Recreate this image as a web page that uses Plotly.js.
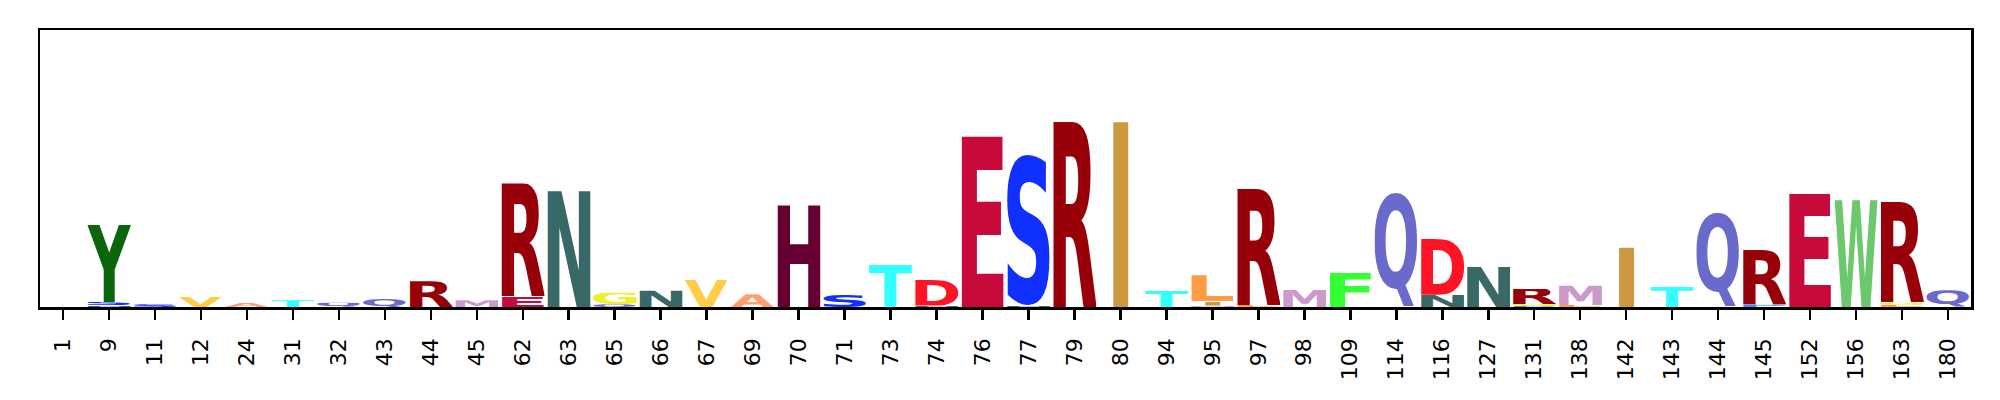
<!DOCTYPE html>
<html><head><meta charset="utf-8">
<script src="https://cdn.plot.ly/plotly-3.0.1.min.js"></script>
<style>html,body{margin:0;padding:0;background:#fff;} #chart{width:2000px;height:400px;}</style>
</head><body><div id="chart"></div>
<script>
// Positions (x tick labels)
const positions = ['1','9','11','12','24','31','32','43','44','45','62','63','65','66','67','69','70','71','73','74','76','77','79','80','94','95','97','98','109','114','116','127','131','138','142','143','144','145','152','156','163','180'];
// Letters in each stack, bottom to top
const stackLetters = [
  [], ['N','S','Y'], ['S'], ['V'], ['A'], ['T'], ['Q'], ['Q'], ['R'], ['M'],
  ['E','R'], ['N'], ['Q','G'], ['N'], ['V'], ['A'], ['H'], ['S'], ['T'], ['N','D'],
  ['E'], ['N','S'], ['R'], ['I'], ['T'], ['M','I','L'], ['L','R'], ['M'], ['F'], ['Q'],
  ['N','D'], ['N'], ['P','G','R'], ['L','M'], ['I'], ['T'], ['Q'], ['P','R'], ['E'], ['W'],
  ['L','G','R'], ['Q']
];
// Letter heights (bits), same order
const stackHeights = [
  [], [0.023,0.055,1.20], [0.042], [0.172], [0.062], [0.104], [0.067], [0.129], [0.40], [0.104],
  [0.164,1.762], [1.81], [0.042,0.181], [0.254], [0.432], [0.198], [1.596], [0.198], [0.66], [0.023,0.41],
  [2.687], [0.023,2.36], [2.905], [2.905], [0.25], [0.023,0.067,0.405], [0.031,1.817], [0.265], [0.535], [1.783],
  [0.192,0.873], [0.64], [0.016,0.031,0.234], [0.031,0.30], [0.925], [0.317], [1.47], [0.036,0.858], [1.767], [1.669],
  [0.036,0.036,1.57], [0.26]
];
const letterColors = {
  A:'#FF9F6F', C:'#009999', D:'#FF1426', E:'#C80A3A', F:'#33FF33', G:'#EEEE33', H:'#660033',
  I:'#CC9940', K:'#663300', L:'#FF9B44', M:'#CC99CC', N:'#386966', P:'#2299FF', Q:'#6A6ACC',
  R:'#970009', S:'#1030FF', T:'#33FFFF', V:'#FFCC44', W:'#6CC86C', Y:'#0B660B'
};

const GLYPH_WIDTH = 0.95;
const cv = document.createElement('canvas');
const ctx = cv.getContext('2d');
ctx.font = 'bold 1000px "DejaVu Sans"';
ctx.textBaseline = 'alphabetic';
ctx.textAlign = 'left';
function metrics(ch){
  const m = ctx.measureText(ch);
  return {l:m.actualBoundingBoxLeft, r:m.actualBoundingBoxRight, a:m.actualBoundingBoxAscent, d:m.actualBoundingBoxDescent};
}
function glyphSrc(ch, color, m){
  const w = m.l + m.r, h = m.a + m.d;
  const svg = '<svg xmlns="http://www.w3.org/2000/svg" width="'+w+'" height="'+h+'" viewBox="'+(-m.l)+' '+(-m.a)+' '+w+' '+h+'" preserveAspectRatio="none">'+
    '<text x="0" y="0" font-family="DejaVu Sans" font-weight="bold" font-size="1000" fill="'+color+'">'+ch+'</text></svg>';
  return 'data:image/svg+xml;charset=utf-8,' + encodeURIComponent(svg);
}
const mE = metrics('E');
const wE = mE.l + mE.r;

const images = [];
const idx = positions.map((_, i) => i);
const totals = [];
stackLetters.forEach((letters, i) => {
  let floor = 0;
  letters.forEach((ch, j) => {
    const h = stackHeights[i][j];
    const m = metrics(ch);
    const wc = m.l + m.r;
    const hs = Math.min(GLYPH_WIDTH / wc, GLYPH_WIDTH / wE);
    const cw = hs * wc;
    images.push({
      source: glyphSrc(ch, letterColors[ch], m),
      xref: 'x', yref: 'y', x: i - cw / 2, y: floor + h,
      sizex: cw, sizey: h, sizing: 'stretch', xanchor: 'left', yanchor: 'top', layer: 'above'
    });
    floor += h;
  });
  totals.push(floor);
});

const data = [{x: idx, y: totals, type: 'scatter', mode: 'none', hoverinfo: 'skip', showlegend: false}];
const layout = {
  width: 2000, height: 400,
  margin: {l: 40, r: 29, t: 30, b: 93},
  paper_bgcolor: '#fff', plot_bgcolor: '#fff',
  showlegend: false,
  xaxis: {
    range: [-0.5, 41.5], tickmode: 'array', tickvals: idx, ticktext: positions, tickangle: -90,
    ticks: 'outside', ticklen: 10, tickwidth: 2.5, tickcolor: '#000',
    showline: true, mirror: true, linecolor: '#000', linewidth: 2.5,
    showgrid: false, zeroline: false, ticklabelstandoff: 10,
    tickfont: {family: 'DejaVu Sans', size: 22, color: '#000'}
  },
  yaxis: {
    range: [0, 4.32], showticklabels: false, ticks: '',
    showline: true, mirror: true, linecolor: '#000', linewidth: 2.5,
    showgrid: false, zeroline: false
  },
  images: images
};
Plotly.newPlot('chart', data, layout, {displayModeBar: false, staticPlot: true});
</script>
</body></html>
